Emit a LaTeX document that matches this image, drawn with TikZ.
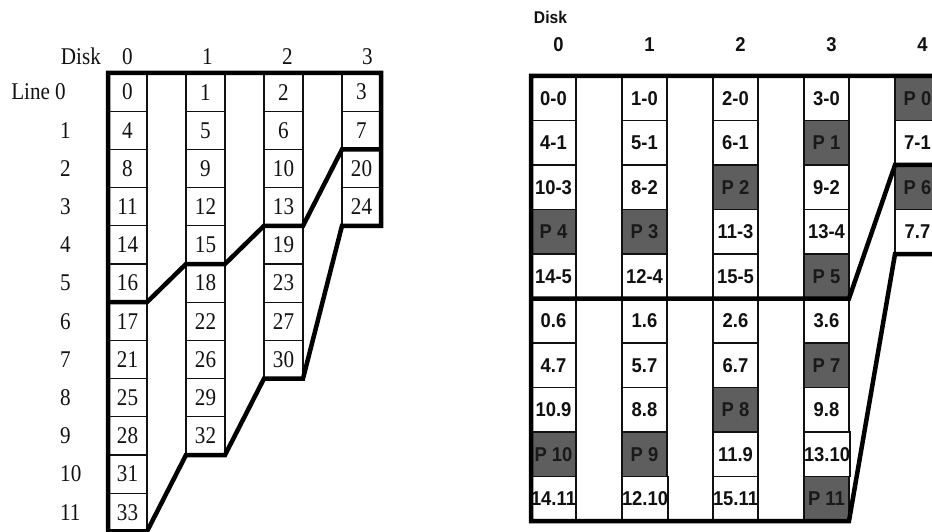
\documentclass[tikz,border=0pt]{standalone}
\usepackage{fontspec}
\setmainfont{Liberation Serif}[FakeStretch=0.88]
\newfontfamily\rdSans{Liberation Sans}[FakeStretch=0.92]
\usetikzlibrary{positioning}
\definecolor{rdInk}{HTML}{111111}
\definecolor{rdParity}{HTML}{5E5E5E}

\begin{document}
\begin{tikzpicture}[
    x=1pt, y=-1pt,
    every node/.style={color=rdInk},
    serifnum/.style={font=\fontsize{24}{26}\selectfont, inner sep=0pt},
    sansnum/.style={font=\rdSans\bfseries\fontsize{20}{22}\selectfont, inner sep=0pt},
    cellL/.style={serifnum, draw, line width=1.2pt, outer sep=0pt, anchor=north west,
        minimum width=39pt, minimum height=38.2pt},
    cellR/.style={sansnum, draw, line width=1.2pt, outer sep=0pt, anchor=north west,
        minimum width=45pt, minimum height=44.5pt},
    datablk/.style={fill=white},
    parblk/.style={fill=rdParity, text=black!90},
    heavy/.style={line width=4.5pt, line join=miter},
]
\useasboundingbox (0,0) rectangle (932,532);
\clip (0,0) rectangle (932,532);

% ----------------------------------------------------------------------
% Left layout: 4 disks, 12 lines, blocks numbered row by row
% ----------------------------------------------------------------------
\foreach \c/\vals in {
    0/{0,4,8,11,14,16,17,21,25,28,31,33},
    1/{1,5,9,12,15,18,22,26,29,32},
    2/{2,6,10,13,19,23,27,30},
    3/{3,7,20,24}} {
    \foreach \v [count=\r from 0] in \vals
        \node[cellL] (l\c-\r) at ({108+78*\c}, {73+38.2*\r}) {\v};
    \node[serifnum, above=8pt of l\c-0, xshift={2*\c}] (hl\c) {\c};
}

% Line numbers down the left side
\node[serifnum, anchor=east] (line0) at (66, {73+38.2*0.5}) {Line 0};
\foreach \r in {1,...,11}
    \node[serifnum, anchor=west] (ln\r) at (60, {73+38.2*(\r+0.5)}) {\r};
\node[serifnum, left=21pt of hl0] (diskL) {Disk};

% Outline of the whole array and of the first group
\draw[heavy] (l0-11.south west) -- (l0-0.north west) -- (l3-0.north east)
    -- (l3-3.south east) -- (l3-3.south west) -- (l2-7.south east)
    -- (l2-7.south west) -- (l1-9.south east) -- (l1-9.south west)
    -- (l0-11.south east) -- cycle;
\draw[heavy] (l3-1.south east) -- (l3-1.south west) -- (l2-3.south east)
    -- (l2-3.south west) -- (l1-4.south east) -- (l1-4.south west)
    -- (l0-5.south east) -- (l0-5.south west);

% ----------------------------------------------------------------------
% Right layout: 5 disks, data blocks and parity blocks (shaded)
% ----------------------------------------------------------------------
\foreach \c/\vals in {
    0/{datablk/0-0, datablk/4-1, datablk/10-3, parblk/P 4, datablk/14-5,
       datablk/0.6, datablk/4.7, datablk/10.9, parblk/P 10, datablk/14.11},
    1/{datablk/1-0, datablk/5-1, datablk/8-2, parblk/P 3, datablk/12-4,
       datablk/1.6, datablk/5.7, datablk/8.8, parblk/P 9, datablk/12.10},
    2/{datablk/2-0, datablk/6-1, parblk/P 2, datablk/11-3, datablk/15-5,
       datablk/2.6, datablk/6.7, parblk/P 8, datablk/11.9, datablk/15.11},
    3/{datablk/3-0, parblk/P 1, datablk/9-2, datablk/13-4, parblk/P 5,
       datablk/3.6, parblk/P 7, datablk/9.8, datablk/13.10, parblk/P 11},
    4/{parblk/P 0, datablk/7-1, parblk/P 6, datablk/7.7}} {
    \foreach \k/\v [count=\r from 0] in \vals
        \node[cellR, \k] (r\c-\r) at ({531+91*\c}, {76+44.5*\r}) {\v};
    \node[sansnum, above=24pt of r\c-0, xshift=5pt] (hr\c) {\c};
}
\node[inner sep=0pt, font=\rdSans\bfseries\fontsize{17}{19}\selectfont,
    above=14pt of hr0, xshift=-8pt] (diskR) {Disk};

% Group boundaries
\draw[heavy] (r4-3.south east) -- (r4-3.south west) -- (r3-9.south east)
    -- (r0-9.south west) -- (r0-0.north west) -- (r4-0.north east);
\draw[heavy] (r0-4.south west) -- (r3-4.south east) -- (r4-1.south west)
    -- (r4-1.south east);

\end{tikzpicture}
\end{document}
